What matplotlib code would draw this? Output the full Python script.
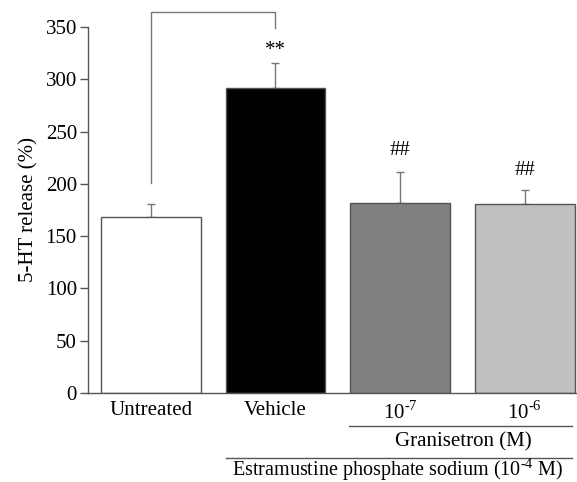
import numpy as np
import matplotlib
matplotlib.use("Agg")
import matplotlib.pyplot as plt
import matplotlib.transforms as mtransforms

plt.rcParams['font.family'] = ['Liberation Serif', 'DejaVu Serif']
plt.rcParams['mathtext.fontset'] = 'custom'
plt.rcParams['mathtext.rm'] = 'Liberation Serif'
plt.rcParams['font.size'] = 15

# data
groups = ['Untreated', 'Vehicle', r'$10^{\text{-}7}$', r'$10^{\text{-}6}$']
release = [168.5, 291.5, 181.5, 181.0]
sem = [12.5, 24.0, 29.5, 13.0]
marks = ['', '**', '##', '##']
mark_y = [0, 328, 232, 213]
bar_colors = ['white', 'black', '#808080', '#c0c0c0']
yticks = [0, 50, 100, 150, 200, 250, 300, 350]

fig = plt.figure(figsize=(5.77, 4.82), dpi=100)
ax = fig.add_axes([88 / 577, 89 / 482, 489 / 577, 366 / 482])

x = np.arange(len(groups))
ax.bar(x, release, width=0.8, color=bar_colors, edgecolor='#555555', linewidth=1.0, zorder=2)
ax.errorbar(x, release, yerr=[np.zeros(len(sem)), sem], fmt='none', ecolor='#777777',
            elinewidth=1.0, capsize=3, capthick=1.0, zorder=1)

for xi, m, my in zip(x, marks, mark_y):
    if m:
        ax.text(xi, my, m, ha='center', va='center', fontsize=15)

# significance bracket Untreated vs Vehicle
ax.plot([0, 0, 1, 1], [201, 364, 364, 349], color='#777777', lw=1.0, clip_on=False)

ax.set_xlim(-0.504, 3.42)
ax.set_ylim(0, 350)
ax.set_yticks(yticks)
ax.set_xticks(x)
ax.set_xticklabels(groups, fontsize=15)
ax.tick_params(axis='x', length=0, pad=6)
ax.tick_params(axis='y', labelsize=15, length=6, width=1, color='#555555', pad=2)
ax.set_ylabel('5-HT release (%)', fontsize=15, labelpad=5)
for s in ['top', 'right']:
    ax.spines[s].set_visible(False)
for s in ['left', 'bottom']:
    ax.spines[s].set_color('#555555')
    ax.spines[s].set_linewidth(1.0)

# group labels below the axis
tr = mtransforms.blended_transform_factory(ax.transData, fig.transFigure)
def fy(p):
    return (482 - p) / 482
ax.plot([1.59, 3.38], [fy(426), fy(426)], color='#555555', lw=1.0, transform=tr, clip_on=False)
ax.text(2.51, fy(442), 'Granisetron (M)', ha='center', va='center', fontsize=15, transform=tr)
ax.plot([0.60, 3.38], [fy(458), fy(458)], color='#555555', lw=1.0, transform=tr, clip_on=False)
ax.text(1.98, fy(470), r'Estramustine phosphate sodium (10$^{\text{-}4}$ M)', ha='center',
        va='center', fontsize=14.5, transform=tr)

fig.savefig('out.png', dpi=100)
